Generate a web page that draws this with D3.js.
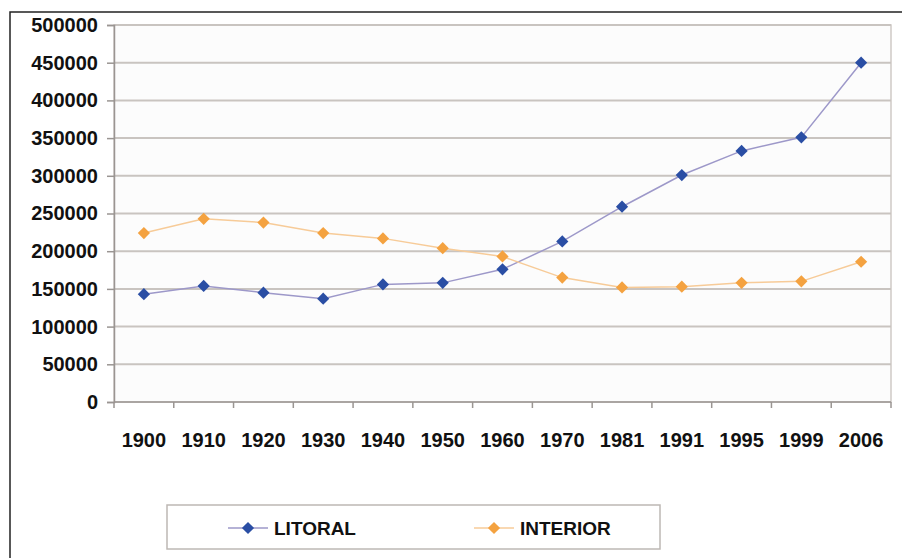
<!DOCTYPE html>
<html>
<head>
<meta charset="utf-8">
<script src="https://cdn.jsdelivr.net/npm/d3@7"></script>
<style>
  body { margin: 0; background: #fff; }
  svg { display: block; font-family: "Liberation Sans", Arial, sans-serif; }
</style>
</head>
<body>
<svg id="chart" width="902" height="558"></svg>
<script>
// data
const years = ['1900', '1910', '1920', '1930', '1940', '1950', '1960', '1970', '1981', '1991', '1995', '1999', '2006'];
const litoral = [143000, 154000, 145000, 137000, 156000, 158000, 176000, 213000, 259000, 301000, 333000, 351000, 450000];
const interior = [224000, 243000, 238000, 224000, 217000, 204000, 193000, 165000, 152000, 153000, 158000, 160000, 186000];
const yTicks = [0, 50000, 100000, 150000, 200000, 250000, 300000, 350000, 400000, 450000, 500000];

const series = [
  { name: 'LITORAL', values: litoral, line: '#9d98c9', marker: '#2a4ea4' },
  { name: 'INTERIOR', values: interior, line: '#f7cb98', marker: '#f4a240' },
];

const svg = d3.select('#chart');
const plotLeft = 114, plotRight = 891, plotTop = 25, plotBottom = 402;

// outer frame (top and left edges only are visible)
svg.append('path')
  .attr('d', 'M10,558 V12 H902')
  .attr('fill', 'none')
  .attr('stroke', '#222')
  .attr('stroke-width', 1.5);

const x = d3.scaleBand().domain(years).range([plotLeft, plotRight]);
const y = d3.scaleLinear().domain([0, 500000]).range([plotBottom, plotTop]);

svg.append('rect')
  .attr('x', plotLeft).attr('y', plotTop)
  .attr('width', plotRight - plotLeft).attr('height', plotBottom - plotTop)
  .attr('fill', '#fcfcfc')
  .attr('stroke', '#cfcac6')
  .attr('stroke-width', 1.5);

// gridlines
svg.append('g')
  .selectAll('line')
  .data(yTicks.slice(1))
  .enter()
  .append('line')
  .attr('x1', plotLeft).attr('x2', plotRight)
  .attr('y1', (d) => y(d)).attr('y2', (d) => y(d))
  .attr('stroke', '#c9c4c0')
  .attr('stroke-width', 2);

// y axis
const yAxis = svg.append('g')
  .attr('transform', `translate(${plotLeft},0)`)
  .call(d3.axisLeft(y).tickValues(yTicks).tickSize(7).tickPadding(9).tickFormat(d3.format('d')));
yAxis.select('.domain').attr('stroke', '#9a9592').attr('stroke-width', 1.5);
yAxis.selectAll('.tick line').attr('stroke', '#9a9592').attr('stroke-width', 1.5);
yAxis.selectAll('text')
  .attr('font-size', 20).attr('font-weight', 'bold').attr('fill', '#111')
  .attr('font-family', '"Liberation Sans", Arial, sans-serif');

// x axis: ticks at the band edges
const xAxis = svg.append('g').attr('transform', `translate(0,${plotBottom})`);
xAxis.append('line')
  .attr('x1', plotLeft).attr('x2', plotRight)
  .attr('stroke', '#9a9592').attr('stroke-width', 1.5);
xAxis.selectAll('line.tk')
  .data(years.concat(['end']))
  .enter()
  .append('line')
  .attr('class', 'tk')
  .attr('x1', (d, i) => plotLeft + i * x.bandwidth())
  .attr('x2', (d, i) => plotLeft + i * x.bandwidth())
  .attr('y1', 0).attr('y2', 6)
  .attr('stroke', '#9a9592').attr('stroke-width', 1.5);
xAxis.selectAll('text')
  .data(years)
  .enter()
  .append('text')
  .attr('x', (d) => x(d) + x.bandwidth() / 2)
  .attr('y', 45)
  .attr('text-anchor', 'middle')
  .attr('font-size', 20).attr('font-weight', 'bold').attr('fill', '#111')
  .text((d) => d);

const cx = (i) => x(years[i]) + x.bandwidth() / 2;
const diamond = d3.symbol().type(d3.symbolDiamond2).size(95);

series.forEach((s) => {
  const line = d3.line().x((d, i) => cx(i)).y((d) => y(d));
  svg.append('path')
    .attr('d', line(s.values))
    .attr('fill', 'none')
    .attr('stroke', s.line)
    .attr('stroke-width', 1.5);
  svg.append('g')
    .selectAll('path')
    .data(s.values)
    .enter()
    .append('path')
    .attr('d', diamond)
    .attr('transform', (d, i) => `translate(${cx(i)},${y(d)})`)
    .attr('fill', s.marker);
});

// legend
const legend = svg.append('g');
legend.append('rect')
  .attr('x', 167).attr('y', 505)
  .attr('width', 493).attr('height', 44)
  .attr('fill', '#fff')
  .attr('stroke', '#bdb8b4')
  .attr('stroke-width', 1.5);
const legendX = [228, 474];
series.forEach((s, i) => {
  const g = legend.append('g').attr('transform', `translate(${legendX[i]},528)`);
  g.append('line').attr('x1', 0).attr('x2', 40).attr('stroke', s.line).attr('stroke-width', 1.5);
  g.append('path').attr('d', diamond).attr('transform', 'translate(20,0)').attr('fill', s.marker);
  g.append('text')
    .attr('x', 46).attr('y', 7)
    .attr('font-size', 19).attr('font-weight', 'bold').attr('fill', '#111')
    .text(s.name);
});
</script>
</body>
</html>
